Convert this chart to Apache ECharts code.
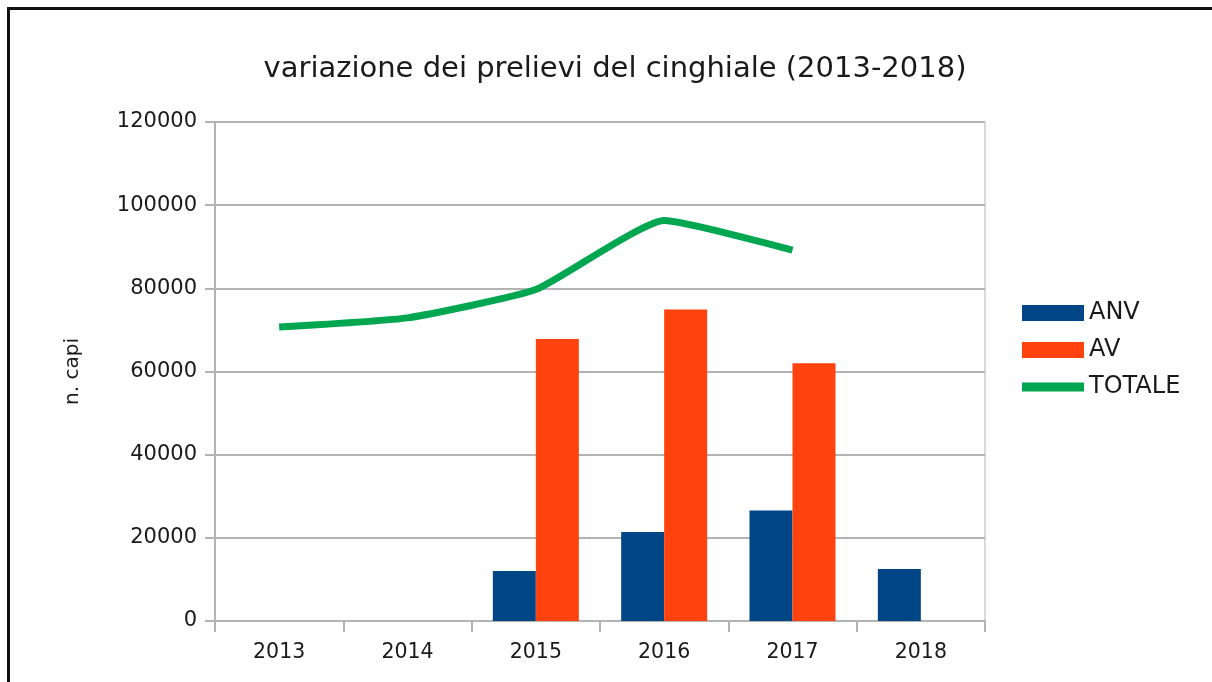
<!DOCTYPE html>
<html lang="it">
<head>
    <meta charset="UTF-8">
    <script src="https://cdn.jsdelivr.net/npm/echarts@6/dist/echarts.min.js"></script>
    <title>variazione dei prelievi del cinghiale</title>
    <style>
        html,
        body {
            overflow: hidden;
            height: 100%;
            width: 100%;
            padding: 0;
            margin: 0;
            background: #fff;
        }
        .frame {
            position: absolute;
            left: 7px;
            top: 7px;
            width: 1300px;
            height: 800px;
            border: 3px solid #111;
        }
        .my-chart {
            position: absolute;
            left: 0;
            top: 0;
            width: 1212px;
            height: 682px;
        }
    </style>
</head>
<body>
<div class="frame"></div>
<div class="my-chart"></div>
<script>
    var anni = ['2013', '2014', '2015', '2016', '2017', '2018'];
    var anv = [null, null, 12000, 21400, 26600, 12500];
    var av = [null, null, 67800, 74900, 62000, null];
    var totale = [70700, 72900, 79700, 96300, 89200, null];

    var font = 'DejaVu Sans, sans-serif';
    var grigio = '#b3b3b3';
    var testo = '#1a1a1a';

    var myChart = echarts.init(document.querySelector('.my-chart'));
    var option = {
        animation: false,
        textStyle: {fontFamily: font},
        title: {
            text: 'variazione dei prelievi del cinghiale (2013-2018)',
            left: 610,
            textAlign: 'center',
            top: 50,
            textStyle: {fontFamily: font, fontSize: 29, fontWeight: 'normal', color: testo}
        },
        legend: {
            orient: 'vertical',
            left: 1017,
            top: 296,
            itemWidth: 62,
            itemHeight: 16,
            itemGap: 13,
            itemStyle: {borderWidth: 0},
            textStyle: {fontFamily: font, fontSize: 24, color: testo},
            data: [
                {name: 'ANV', icon: 'rect'},
                {name: 'AV', icon: 'rect'},
                // linea più sottile nella legenda
                {name: 'TOTALE', icon: 'path://M0,0L62,0L62,9L0,9Z'}
            ]
        },
        grid: {
            left: 215,
            right: 227,
            top: 122,
            bottom: 61,
            show: true,
            borderColor: grigio,
            borderWidth: 1
        },
        xAxis: {
            type: 'category',
            data: anni,
            boundaryGap: true,
            axisLine: {lineStyle: {color: grigio, width: 2}},
            axisTick: {show: true, length: 11, lineStyle: {color: grigio, width: 2}},
            axisLabel: {fontFamily: font, fontSize: 20.5, color: testo, margin: 21}
        },
        yAxis: {
            type: 'value',
            min: 0,
            max: 120000,
            interval: 20000,
            name: 'n. capi',
            nameLocation: 'middle',
            nameGap: 132,
            nameTextStyle: {fontFamily: font, fontSize: 20, color: testo},
            axisLine: {show: true, lineStyle: {color: grigio, width: 2}},
            axisTick: {show: true, length: 10, lineStyle: {color: grigio, width: 2}},
            axisLabel: {
                fontFamily: font, fontSize: 21, color: testo, margin: 18,
                formatter: function (v) { return String(v); }
            },
            splitLine: {lineStyle: {color: grigio, width: 2}}
        },
        series: [
            {
                name: 'ANV',
                type: 'bar',
                data: anv,
                barWidth: 43,
                barGap: '0%',
                itemStyle: {color: '#004586'}
            },
            {
                name: 'AV',
                type: 'bar',
                data: av,
                barWidth: 43,
                barGap: '0%',
                itemStyle: {color: '#ff420e'}
            },
            {
                name: 'TOTALE',
                type: 'line',
                data: totale,
                smooth: 0.15,
                showSymbol: false,
                symbol: 'none',
                lineStyle: {color: '#00a650', width: 7},
                itemStyle: {color: '#00a650'}
            }
        ]
    };
    myChart.setOption(option);
</script>
</body>
</html>
